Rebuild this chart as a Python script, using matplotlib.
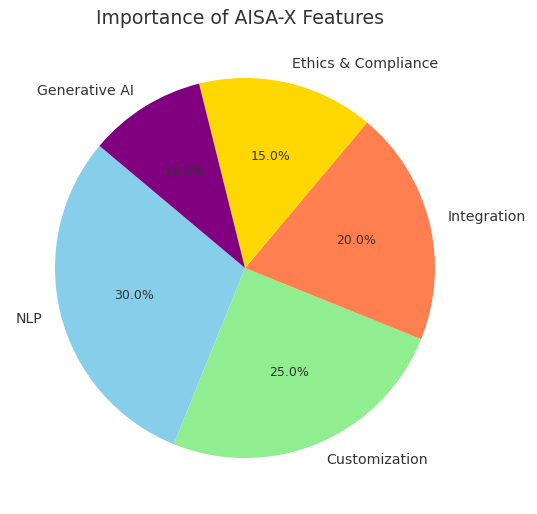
import matplotlib
matplotlib.use("Agg")
import matplotlib.pyplot as plt

features = ["NLP", "Customization", "Integration", "Ethics & Compliance", "Generative AI"]
importance = [30, 25, 20, 15, 10]
colors = ["skyblue", "lightgreen", "coral", "gold", "purple"]

fig = plt.figure(figsize=(5.37, 5.14), dpi=100)
ax = fig.add_axes([55/537, (514-458)/514, 380/537, 380/514])
wedges, texts, autotexts = ax.pie(importance, labels=features, colors=colors,
                                  autopct="%1.1f%%", startangle=140,
                                  textprops={"color": "#333333", "fontsize": 10.2})
for t in autotexts:
    t.set_fontsize(9)
ax.set_xlim(-1, 1)
ax.set_ylim(-1, 1)
ax.set_aspect("equal")
fig.text(240/537, 1 - 18/514, "Importance of AISA-X Features", ha="center", va="center",
         fontsize=13.6, color="#333333")
fig.savefig("out.png", dpi=100)
